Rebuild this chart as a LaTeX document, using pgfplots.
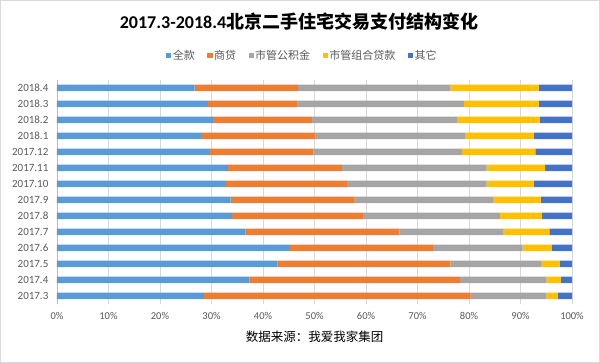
\documentclass[border=0pt]{standalone}
\usepackage{fontspec}
\setmainfont{Carlito}
\newfontfamily\cjk{Noto Sans CJK SC}
\usepackage{pgfplots}
\usepackage{pgfplotstable}
\pgfplotsset{compat=1.18}
\definecolor{cA}{HTML}{5B9BD5}
\definecolor{cB}{HTML}{ED7D31}
\definecolor{cC}{HTML}{A5A5A5}
\definecolor{cD}{HTML}{FFC000}
\definecolor{cE}{HTML}{4472C4}
\definecolor{txt}{HTML}{595959}
\pgfplotstableread{
idx qk sd gjj zh qt
0 28.5 51.8 14.7 2.2 2.8
1 37.4 40.9 16.7 2.8 2.2
2 42.8 33.6 17.6 3.6 2.4
3 45.2 27.8 17.4 5.7 3.9
4 36.6 29.9 20.2 8.9 4.4
5 34.0 25.4 26.6 8.2 5.8
6 33.7 24.1 26.9 9.2 6.1
7 32.8 23.5 27.1 9.2 7.4
8 33.2 22.1 28.1 11.4 5.2
9 29.5 20.3 28.8 14.3 7.1
10 28.0 22.2 29.0 13.4 7.4
11 30.3 19.2 28.2 16.0 6.3
12 29.3 17.4 32.3 14.5 6.5
13 26.7 20.1 29.6 17.1 6.5
}\data
\begin{document}
\begin{tikzpicture}[x=1pt,y=1pt]
\useasboundingbox (0,0) rectangle (600,363);
\draw[gray!30, line width=1pt] (0.5,0.5) rectangle (599.5,362.5);
\begin{axis}[
  at={(57pt,59pt)}, anchor=south west,
  width=515pt, height=224pt, scale only axis,
  xbar stacked, bar width=6.5pt,
  xmin=0, xmax=100, ymin=-0.5, ymax=13.5,
  xtick={0,10,...,100},
  xticklabel={\pgfmathprintnumber{\tick}\%},
  ytick={0,...,13},
  yticklabels={2017.3,2017.4,2017.5,2017.6,2017.7,2017.8,2017.9,2017.10,2017.11,2017.12,2018.1,2018.2,2018.3,2018.4},
  /pgf/number format/assume math mode=true,
  xmajorgrids, grid style={gray!30, line width=0.6pt},
  axis lines=left,
  x axis line style={draw=none},
  y axis line style={draw=gray!50, -},
  tick style={draw=none},
  xticklabel style={font=\fontsize{10.5}{12}\selectfont, text=txt, yshift=-3pt},
  yticklabel style={font=\fontsize{11}{12}\selectfont, text=txt, xshift=-3pt},
  xtick pos=bottom,
  legend style={at={(0.476,1.11)}, anchor=center, draw=none, font=\fontsize{11}{12}\selectfont\cjk, text=txt,
    nodes={inner sep=1.5pt},
    /tikz/every even column/.append style={column sep=11pt}},
  legend columns=5,
  legend image code/.code={\fill[#1] (0pt,-2.6pt) rectangle (5.2pt,2.6pt);},
]
\addplot[fill=cA, draw=none] table[x=qk, y=idx] {\data};
\addplot[fill=cB, draw=none] table[x=sd, y=idx] {\data};
\addplot[fill=cC, draw=none] table[x=gjj, y=idx] {\data};
\addplot[fill=cD, draw=none] table[x=zh, y=idx] {\data};
\addplot[fill=cE, draw=none] table[x=qt, y=idx] {\data};
\legend{全款,商贷,市管公积金,市管组合贷款,其它}
\end{axis}
\node at (299,341) {\fontsize{18}{20}\selectfont\bfseries 2017.3-2018.4{\cjk 北京二手住宅交易支付结构变化}};
\node at (314.5,26.3) {\fontsize{12.5}{14}\selectfont\cjk 数据来源：我爱我家集团};
\end{tikzpicture}
\end{document}
